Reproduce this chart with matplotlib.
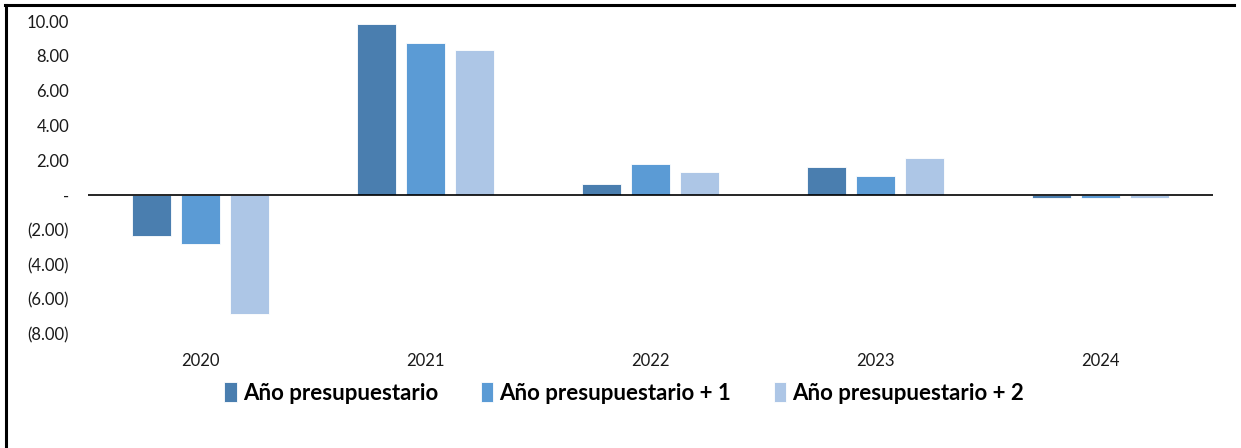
import numpy as np
import matplotlib
matplotlib.use("Agg")
import matplotlib.pyplot as plt
from matplotlib.lines import Line2D

plt.rcParams['font.family'] = ['Lato', 'DejaVu Sans']

years = ["2020", "2021", "2022", "2023", "2024"]
series_names = ["Año presupuestario", "Año presupuestario + 1", "Año presupuestario + 2"]
anio = [-2.36, 9.83, 0.63, 1.60, -0.20]
anio_1 = [-2.83, 8.74, 1.80, 1.10, -0.20]
anio_2 = [-6.84, 8.32, 1.31, 2.11, -0.20]
colors = ["#4A7EAF", "#5B9BD5", "#ADC6E6"]

yticks = [-8, -6, -4, -2, 0, 2, 4, 6, 8, 10]


def fmt(v):
    if v == 0:
        return "-"
    if v < 0:
        return "({:.2f})".format(-v)
    return "{:.2f}".format(v)


fig = plt.figure(figsize=(12.41, 4.48), dpi=100)
ax = fig.add_axes([0.0709, 0.2545, 0.9065, 0.6986])

x = np.arange(len(years))
width = 0.175
step = 0.218
for i, (vals, name) in enumerate(zip([anio, anio_1, anio_2], series_names)):
    ax.bar(x + (i - 1) * step, vals, width, color=colors[i], label=name,
           edgecolor="white", linewidth=0.6, zorder=2)

ax.axhline(0, color="black", linewidth=1.2, zorder=3)
ax.set_xlim(-0.5, len(years) - 0.5)
ax.set_ylim(-8, 10)
ax.set_yticks(yticks)
ax.set_yticklabels([fmt(v) for v in yticks])
ax.set_xticks(x)
ax.set_xticklabels(years)
for s in ax.spines.values():
    s.set_visible(False)
ax.tick_params(axis="both", length=0, labelsize=12, colors="#1a1a1a")
ax.tick_params(axis="y", pad=17)
ax.tick_params(axis="x", pad=14)
for lbl in ax.get_yticklabels():
    lbl.set_x(-0.002)
ax.tick_params(axis="y", pad=12)

leg = fig.legend(loc="center", bbox_to_anchor=(0.503, 0.123), ncol=3, frameon=False,
                 prop={"weight": "bold", "size": 16}, handlelength=0.55, handleheight=1.0,
                 handletextpad=0.3, columnspacing=1.9)

# frame lines on top and left of the figure
fig.add_artist(Line2D([0.004, 0.994], [0.988, 0.988], color="black", linewidth=2.2,
                      transform=fig.transFigure))
fig.add_artist(Line2D([0.0045, 0.0045], [0.0, 0.988], color="black", linewidth=2.2,
                      transform=fig.transFigure))

fig.savefig("out.png", dpi=100)
